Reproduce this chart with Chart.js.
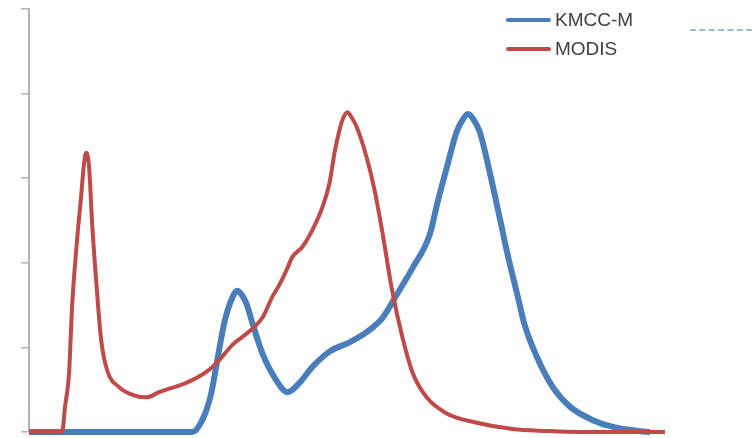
<!DOCTYPE html>
<html>
<head>
<meta charset="utf-8">
<script src="https://cdn.jsdelivr.net/npm/chart.js@4/dist/chart.umd.min.js"></script>
<style>
  html, body { margin: 0; padding: 0; background: #fff; }
  #wrap { position: relative; width: 752px; height: 438px; }
  #legend { position: absolute; left: 506px; top: 8px; font-family: "Liberation Sans", Arial, sans-serif; font-size: 19px; color: #404040; }
  .item { position: relative; height: 29px; }
  .swatch { position: absolute; left: 0; top: 10px; width: 45px; height: 4px; border-radius: 2px; }
  .label { position: absolute; left: 49px; top: 1px; line-height: 22px; white-space: nowrap; }
  #dash { position: absolute; left: 690px; top: 29px; width: 62px; border-top: 2px dashed #9fb7d3; }
</style>
</head>
<body>
<div id="wrap">
  <canvas id="chart" width="752" height="438"></canvas>
  <div id="legend"></div>
  <div id="dash"></div>
</div>
<script>
const seriesNames = ['KMCC-M', 'MODIS'];
const seriesColors = ['#4a7ebb', '#be4b48'];

// KMCC-M distribution (x, value)
const kmccX = [0, 163, 173, 182, 188, 195, 202, 208, 213, 217, 223, 233, 247, 258, 270, 283, 300, 320, 337, 353, 367, 383, 400, 408, 417, 427, 433, 438, 443, 450, 460, 470, 478, 487, 495, 507, 523, 540, 563, 583, 610, 620];
const kmccY = [0, 0, 0.14, 0.46, 0.85, 1.29, 1.56, 1.67, 1.61, 1.52, 1.29, 0.93, 0.61, 0.47, 0.58, 0.77, 0.95, 1.06, 1.18, 1.35, 1.62, 1.94, 2.33, 2.72, 3.12, 3.55, 3.69, 3.76, 3.71, 3.55, 3.07, 2.53, 2.09, 1.65, 1.26, 0.89, 0.53, 0.30, 0.14, 0.06, 0.01, 0];

// MODIS distribution (x, value)
const modisX = [0, 33, 36, 40, 43, 48, 52, 55, 57, 60, 63, 67, 72, 78, 90, 103, 117, 130, 137, 157, 177, 190, 203, 220, 233, 243, 250, 257, 263, 273, 283, 293, 300, 305, 310, 314, 318, 322, 327, 337, 345, 353, 362, 373, 383, 397, 417, 447, 483, 517, 550, 635];
const modisY = [0, 0, 0.30, 0.70, 1.48, 2.27, 2.78, 3.18, 3.30, 3.13, 2.47, 1.80, 1.09, 0.73, 0.53, 0.44, 0.41, 0.47, 0.50, 0.58, 0.71, 0.85, 1.03, 1.19, 1.35, 1.60, 1.74, 1.91, 2.07, 2.19, 2.39, 2.66, 2.94, 3.30, 3.57, 3.72, 3.78, 3.72, 3.61, 3.25, 2.86, 2.35, 1.71, 1.11, 0.70, 0.41, 0.22, 0.11, 0.035, 0.012, 0, 0];

const yTicks = [0, 1, 2, 3, 4, 5];

function pts(xs, ys) {
  return xs.map((x, i) => ({ x: x, y: ys[i] }));
}

window.addEventListener('DOMContentLoaded', () => {
  const ctx = document.getElementById('chart').getContext('2d');

  new Chart(ctx, {
    type: 'line',
    data: {
      datasets: [{
        label: seriesNames[0],
        data: pts(kmccX, kmccY),
        borderColor: seriesColors[0],
        borderWidth: 6,
        pointRadius: 0,
        cubicInterpolationMode: 'monotone',
        clip: false,
        order: 1
      }, {
        label: seriesNames[1],
        data: pts(modisX, modisY),
        borderColor: seriesColors[1],
        borderWidth: 4,
        pointRadius: 0,
        cubicInterpolationMode: 'monotone',
        clip: false,
        order: 0
      }]
    },
    options: {
      responsive: false,
      animation: false,
      layout: { padding: { left: 21, top: 9, right: 87, bottom: 6 } },
      plugins: { legend: { display: false }, tooltip: { enabled: false } },
      scales: {
        x: { type: 'linear', min: 0, max: 635, display: false },
        y: {
          min: 0,
          max: 5,
          afterBuildTicks: (axis) => { axis.ticks = yTicks.map(v => ({ value: v })); },
          ticks: { display: false },
          grid: { drawOnChartArea: false, drawTicks: true, tickLength: 8, color: '#b4b4b4', lineWidth: 1.5 },
          border: { display: true, color: '#b4b4b4', width: 2 }
        }
      }
    }
  });

  const legend = document.getElementById('legend');
  seriesNames.forEach((name, i) => {
    const item = document.createElement('div');
    item.className = 'item';
    item.innerHTML = '<div class="swatch" style="background:' + seriesColors[i] + '"></div><div class="label">' + name + '</div>';
    legend.appendChild(item);
  });
});
</script>
</body>
</html>
